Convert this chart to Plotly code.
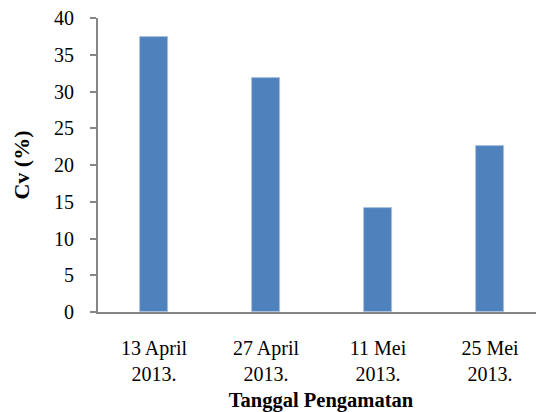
import plotly.graph_objects as go

categories = ["13 April<br>2013.", "27 April<br>2013.", "11 Mei<br>2013.", "25 Mei<br>2013."]
cv_values = [37.4, 31.8, 14.2, 22.6]
y_ticks = [0, 5, 10, 15, 20, 25, 30, 35, 40]

FONT = "Liberation Serif"

fig = go.Figure(go.Bar(
    x=categories,
    y=cv_values,
    width=0.25,
    marker=dict(color="#4F81BD", line=dict(color="#A7C0E0", width=0.8)),
))

# page body has an 8px default margin, so the figure is shrunk by 8px
fig.update_layout(
    width=536, height=404,
    margin=dict(l=90, r=0, t=10, b=100),
    paper_bgcolor="white", plot_bgcolor="white",
    font=dict(family=FONT, size=20, color="black"),
    showlegend=False,
    bargap=0,
)
fig.update_xaxes(
    range=[-0.5, 3.482], automargin=False,
    showline=True, linecolor="#868686", linewidth=2,
    ticks="", showgrid=False, zeroline=False,
    ticklabelstandoff=17,
    tickfont=dict(family=FONT, size=20),
    title=dict(text="<b>Tanggal Pengamatan</b>", font=dict(family=FONT, size=20.5), standoff=9),
)
fig.update_yaxes(
    range=[0, 40.0001], tickvals=y_ticks, automargin=False,
    ticklabeloverflow="allow",
    showline=True, linecolor="#868686", linewidth=2,
    ticks="outside", ticklen=6, tickcolor="#868686", tickwidth=1.5,
    showgrid=False, zeroline=False,
    ticklabelstandoff=12,
    tickfont=dict(family=FONT, size=20),
    title=dict(text="<b>Cv (%)</b>", font=dict(family=FONT, size=22), standoff=18),
)

fig.write_html("out.html")
